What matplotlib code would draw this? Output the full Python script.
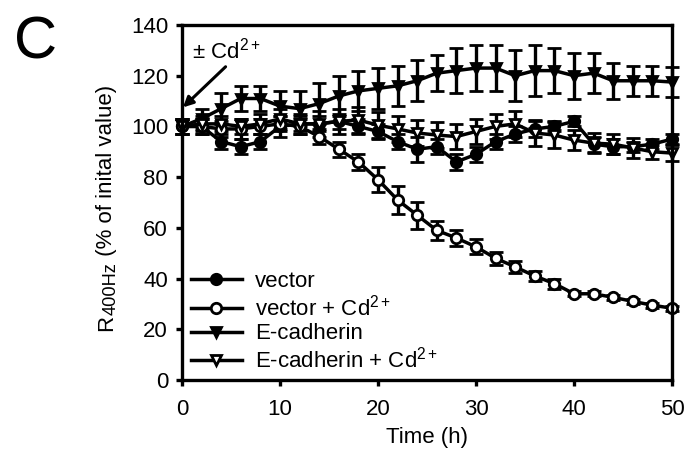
import matplotlib
matplotlib.use("Agg")
import matplotlib.pyplot as plt
import numpy as np

plt.rcParams['font.family'] = ['Liberation Sans', 'DejaVu Sans']
plt.rcParams['mathtext.fontset'] = 'custom'
plt.rcParams['mathtext.rm'] = 'Liberation Sans'
plt.rcParams['mathtext.it'] = 'Liberation Sans:italic'

time_h = [0, 2, 4, 6, 8, 10, 12, 14, 16, 18, 20, 22, 24, 26, 28, 30, 32, 34, 36, 38, 40, 42, 44, 46, 48, 50]

vector = [100, 100, 94, 92, 94, 100, 101, 101, 102, 100, 98, 94, 91, 92, 86, 89, 94, 97, 99, 100, 102, 93, 92, 92, 93, 95]
vector_err = [3, 3, 3, 3, 3, 4, 3, 3, 3, 3, 3, 3, 5, 3, 3, 3, 3, 3, 3, 2, 2, 3, 3, 2, 2, 2]

vector_cd = [100, 100, 99, 99, 100, 101, 100, 96, 91, 86, 79, 71, 65, 59, 56, 52.5, 48, 44.6, 41, 38, 34, 34, 32.6, 31, 29.5, 28.3]
vector_cd_err = [3, 3, 3, 4, 3, 3, 3, 3, 3, 3, 5, 5.5, 5.3, 3.7, 3, 3, 2.5, 2.5, 2, 2, 1, 1, 1, 1, 1, 1]

ecad = [100, 103, 107, 111, 111, 108, 107, 109, 112, 114, 115, 116, 118, 121, 122, 123, 123, 120, 122, 122, 120, 121, 118, 118, 118, 117.5]
ecad_err = [3, 4, 6, 5, 5, 6, 7, 8, 8, 8, 8, 8, 8, 7, 9, 9, 9, 10, 10, 9, 9, 8, 7, 6, 6, 6]

ecad_cd = [100, 101, 101, 100, 101, 103, 101, 101, 102, 102.5, 100.5, 99, 97.4, 96.6, 96, 98, 100, 101, 97.4, 96.6, 94.6, 93.4, 93, 91.5, 90, 89.5]
ecad_cd_err = [3, 3, 3, 3, 4, 4, 4, 5, 5, 5, 5, 5, 5, 5, 5, 5, 5, 5, 5, 5, 4, 4, 4, 4, 3, 3]

labels = ["vector", "vector + Cd$^{\\mathregular{2+}}$", "E-cadherin",
          "E-cadherin + Cd$^{\\mathregular{2+}}$"]
series = [
    (vector, vector_err, 'o', 'black'),
    (vector_cd, vector_cd_err, 'o', 'white'),
    (ecad, ecad_err, 'v', 'black'),
    (ecad_cd, ecad_cd_err, 'v', 'white'),
]

FS = 16
fig = plt.figure(figsize=(6.85, 4.54), dpi=100)
ax = fig.add_axes([0.2657, 0.163, 0.7153, 0.782])

handles = []
for (vals, err, mk, fc), label in zip(series, labels):
    h = ax.errorbar(time_h, vals, yerr=err, color='black', lw=2.5, marker=mk,
                    markersize=7.5, markerfacecolor=fc, markeredgecolor='black',
                    markeredgewidth=2, capsize=5, capthick=2.4, elinewidth=2.4,
                    label=label, clip_on=False)
    handles.append(h)

ax.set_xlim(0, 50)
ax.set_ylim(0, 140)
ax.set_xticks([0, 10, 20, 30, 40, 50])
ax.set_yticks(np.arange(0, 141, 20))
for s in ax.spines.values():
    s.set_linewidth(2.4)
ax.tick_params(axis='both', direction='out', length=4, width=2.4, labelsize=FS, pad=6)
ax.tick_params(axis='x', pad=10)

ax.set_xlabel('Time (h)', fontsize=FS, labelpad=5)

leg = ax.legend(handles=[h[0] for h in handles], labels=labels,
                loc='lower left', frameon=False, fontsize=FS, handlelength=2.3,
                handletextpad=0.6, labelspacing=0.12, borderaxespad=0.0,
                bbox_to_anchor=(0.0, -0.005))

ax.annotate('± Cd$^{\\mathregular{2+}}$', xy=(0.1, 107.5), xytext=(1.0, 125), fontsize=FS,
            ha='left', va='bottom',
            arrowprops=dict(arrowstyle='-|>', color='black', lw=2.2, mutation_scale=15,
                            shrinkA=1, shrinkB=0, relpos=(0.55, 0.0)))

fig.text(0.02, 0.845, 'C', fontsize=43, ha='left', va='bottom')

# y-axis label built from pieces: R, subscript 400Hz, rest
fig.canvas.draw()
renderer = fig.canvas.get_renderer()
parts = [('R', FS, 0), ('400Hz', FS * 0.82, 4), (' (% of inital value)', FS, 0)]
texts = []
for s, fs, dx in parts:
    t = fig.text(0, 0, s, fontsize=fs, rotation=90, ha='left', va='baseline',
                 rotation_mode='anchor')
    texts.append((t, dx))
heights = [t.get_window_extent(renderer).height for t, _ in texts]
total = sum(heights)
W, H = fig.bbox.width, fig.bbox.height
xc_px = 112  # baseline x in pixels
yc_px = H - 208
y0 = yc_px - total / 2
for (t, dx), h in zip(texts, heights):
    t.set_position(((xc_px + dx) / W, y0 / H))
    y0 += h

fig.savefig('out.png', dpi=100)
